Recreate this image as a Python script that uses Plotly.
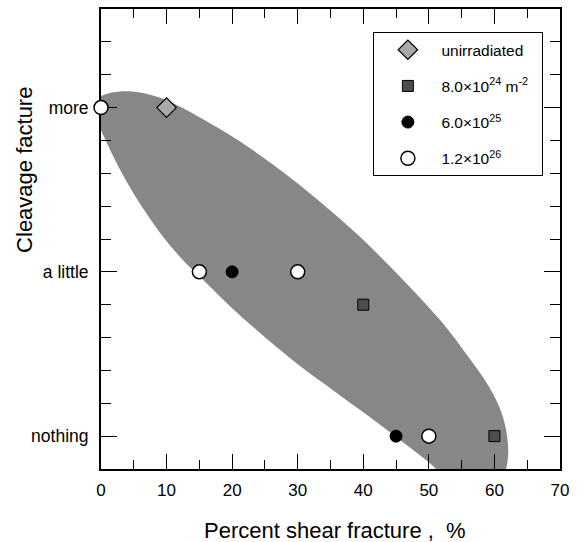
import numpy as np
import plotly.graph_objects as go

# ---- data ----
x_tick_vals = [0, 10, 20, 30, 40, 50, 60, 70]
y_levels = [0, 1, 2]
y_labels = ["nothing", "a little", "more"]

unirr_x = [10]
unirr_y = [2]
fl80e24_x = [40, 60]
fl80e24_y = [0.8, 0]
fl60e25_x = [20, 45]
fl60e25_y = [1, 0]
fl12e26_x = [0, 15, 30, 50]
fl12e26_y = [2, 1, 1, 0]

series_names = [
    "unirradiated",
    "8.0\u00d710<sup>24</sup> m<sup>-2</sup>\u00a0\u00a0",
    "6.0\u00d710<sup>25</sup>",
    "1.2\u00d710<sup>26</sup>",
]
x_title = "Percent shear fracture ,\u00a0 %"
y_title = "Cleavage facture"

# outline of the shaded band (data units; parts outside the axes get clipped)
band_x = [-0.76, 0.61, 2.90, 5.95, 10.07, 15.10, 21.20, 27.30, 33.40, 39.50, 45.60,
          51.71, 55.82, 59.02, 61.16, 62.07, 61.77, 60.24, 57.04, 53.22, 50.17,
          45.60, 40.57, 35.38, 30.35, 25.32, 20.13, 15.10, 12.05, 9.00, 5.95,
          3.66, 1.83, 0.46, -0.61]
band_y = [2.043, 2.079, 2.098, 2.091, 2.043, 1.939, 1.793, 1.622, 1.427, 1.213, 0.970,
          0.707, 0.494, 0.311, 0.134, -0.049, -0.201, -0.299, -0.323, -0.274, -0.165,
          -0.024, 0.128, 0.280, 0.427, 0.591, 0.774, 0.970, 1.091, 1.238, 1.415,
          1.567, 1.707, 1.823, 1.921]

# ---- figure ----
FONT = "Liberation Sans, Arial, Helvetica, sans-serif"
fig = go.Figure()

# smooth closed outline (Catmull-Rom -> cubic Bezier) through the read points
P = np.column_stack([band_x, band_y])
n = len(P)
segs = [f"M {P[0,0]:.4f},{P[0,1]:.4f}"]
for i in range(n):
    p0, p1, p2, p3 = P[(i - 1) % n], P[i], P[(i + 1) % n], P[(i + 2) % n]
    c1 = p1 + (p2 - p0) / 6.0
    c2 = p2 - (p3 - p1) / 6.0
    segs.append(f"C {c1[0]:.4f},{c1[1]:.4f} {c2[0]:.4f},{c2[1]:.4f} {p2[0]:.4f},{p2[1]:.4f}")
path = " ".join(segs) + " Z"
fig.add_shape(type="path", path=path, xref="x", yref="y",
              fillcolor="#878787", line=dict(width=0), layer="below")

fig.add_trace(go.Scatter(x=unirr_x, y=unirr_y, mode="markers", name=series_names[0],
                         legendgroup="a",
                         marker=dict(symbol="diamond", size=15, color="#a9a9a9",
                                     line=dict(color="black", width=1.2)),
                         cliponaxis=False))
fig.add_trace(go.Scatter(x=fl80e24_x, y=fl80e24_y, mode="markers", name=series_names[1],
                         legendgroup="b",
                         marker=dict(symbol="square", size=11, color="#4d4d4d",
                                     line=dict(color="black", width=1)),
                         cliponaxis=False))
fig.add_trace(go.Scatter(x=fl60e25_x, y=fl60e25_y, mode="markers", name=series_names[2],
                         legendgroup="c",
                         marker=dict(symbol="circle", size=12, color="black",
                                     line=dict(color="black", width=1)),
                         cliponaxis=False))
fig.add_trace(go.Scatter(x=fl12e26_x, y=fl12e26_y, mode="markers", name=series_names[3],
                         legendgroup="d",
                         marker=dict(symbol="circle", size=14, color="white",
                                     line=dict(color="black", width=1.5)),
                         cliponaxis=False))

fig.add_annotation(text=x_title, xref="paper", yref="paper", x=0.509, y=-0.133,
                   xanchor="center", yanchor="middle", showarrow=False,
                   font=dict(size=22, family=FONT, color="black"))
fig.add_annotation(text=y_title, xref="paper", yref="paper", x=-0.168, y=0.65,
                   xanchor="center", yanchor="middle", showarrow=False, textangle=-90,
                   font=dict(size=22, family=FONT, color="black"))

fig.update_layout(
    width=583, height=542, autosize=False,
    margin=dict(l=101, r=23, t=9, b=73),
    paper_bgcolor="white", plot_bgcolor="white",
    font=dict(family=FONT, color="black"),
    showlegend=True,
    legend=dict(x=0.593, y=0.95, xanchor="left", yanchor="top",
                bordercolor="black", borderwidth=1.2, bgcolor="white",
                font=dict(size=15.5, family=FONT), tracegroupgap=13,
                traceorder="grouped", itemwidth=57),
    xaxis=dict(range=[0, 70], tickvals=x_tick_vals, ticks="inside", ticklen=15,
               tickwidth=1, tickcolor="black", showline=True, linewidth=2,
               linecolor="black", mirror="ticks", showgrid=False, zeroline=False,
               minor=dict(dtick=5, tick0=0, ticks="inside", ticklen=9,
                          tickcolor="black", tickwidth=1),
               tickfont=dict(size=17), ticklabelstandoff=5, layer="below traces",
               automargin=False),
    yaxis=dict(range=[-0.2, 2.6], tickvals=y_levels, ticktext=y_labels,
               ticks="inside", ticklen=16, tickwidth=1, tickcolor="black",
               showline=True, linewidth=2, linecolor="black", mirror="ticks",
               showgrid=False, zeroline=False,
               minor=dict(dtick=0.2, tick0=0, ticks="inside", ticklen=10,
                          tickcolor="black", tickwidth=1),
               tickfont=dict(size=17.5), ticklabelstandoff=7, layer="below traces",
               automargin=False),
)

fig.write_html("out.html", config={"displayModeBar": False},
               post_script="document.body.style.margin='0';document.body.style.overflow='hidden';")
